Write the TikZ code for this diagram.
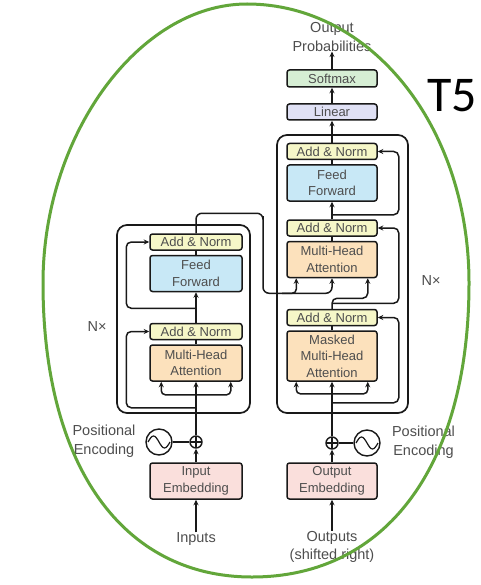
\documentclass[tikz,border=0pt]{standalone}
\usepackage{fontspec}
\setmainfont{Liberation Sans}
\newfontfamily\tfivefont{Carlito}
\usetikzlibrary{arrows.meta,calc}
\definecolor{txt}{RGB}{78,78,78}
\definecolor{ancol}{RGB}{246,247,200}
\definecolor{ffcol}{RGB}{200,232,246}
\definecolor{mhacol}{RGB}{252,225,188}
\definecolor{embcol}{RGB}{250,223,220}
\definecolor{lincol}{RGB}{224,225,245}
\definecolor{smcol}{RGB}{214,238,212}
\definecolor{ellcol}{RGB}{98,166,58}
\definecolor{linecol}{RGB}{25,25,25}
\begin{document}
\begin{tikzpicture}[x=1pt,y=-1pt,
  blk/.style={draw=linecol, line width=1.5pt, rounded corners=2.5pt, inner sep=0pt,
    text=txt, font=\fontsize{13}{16.5}\selectfont, align=center},
  encw/.style={blk, minimum width=92pt},
  decw/.style={blk, minimum width=90pt},
  anb/.style={fill=ancol, minimum height=16pt},
  bigb/.style={minimum height=36pt},
  con/.style={draw=linecol, line width=1.5pt},
  arr/.style={con, -{Stealth[length=5.5pt,width=5pt]}},
  outerbox/.style={draw=linecol, line width=1.7pt, rounded corners=10pt},
  lab/.style={text=txt, font=\fontsize{14.5}{18.5}\selectfont, align=center, inner sep=0pt},
  circ/.style={draw=linecol, line width=1.4pt, circle, inner sep=0pt}
]
\useasboundingbox (0,0) rectangle (480,585);
\fill[white] (0,0) rectangle (480,585);

% outer boxes
\draw[outerbox] (117,225) rectangle (250,413);
\draw[outerbox] (277,135) rectangle (408,413);

% ---------- Encoder ----------
\node[encw,anb] (eAN2) at (196,242) {Add \& Norm};
\node[encw,bigb,fill=ffcol] (eFF) at (196,273.5) {Feed\\Forward};
\node[encw,anb] (eAN1) at (196,331.5) {Add \& Norm};
\node[encw,bigb,fill=mhacol] (eMHA) at (196,363) {Multi-Head\\Attention};
\node[encw,bigb,fill=embcol] (eEmb) at (196,481) {Input\\Embedding};
\node[circ,minimum size=12pt] (ePlus) at (196,442) {};
\node[circ,minimum size=26pt] (eSin) at (159,442) {};
\node[lab] (eIn) at (196,539) {Inputs};
\node[lab] (ePE) at (104,441) {Positional\\Encoding};
\node[lab] (eN) at (97,327) {N×};

% plus sign
\draw[line width=1.1pt,linecol] ($(ePlus.west)+(1,0)$) -- ($(ePlus.east)+(-1,0)$);
\draw[line width=1.1pt,linecol] ($(ePlus.north)+(0,1)$) -- ($(ePlus.south)+(0,-1)$);
% sine
\draw[line width=1.2pt,linecol] ($(eSin.center)+(-11,0)$) sin ($(eSin.center)+(-5.5,-6)$) cos (eSin.center) sin ($(eSin.center)+(5.5,6)$) cos ($(eSin.center)+(11,0)$);

\draw[arr] (eIn.north) -- (eEmb.south);
\draw[arr] (eEmb.north) -- (ePlus.south);
\draw[con] (eSin.east) -- (ePlus.west);
\draw[arr] (ePlus.north) -- (eMHA.south);
\draw[arr, rounded corners=4pt] ($(eMHA.south)+(0,13)$) -| ($(eMHA.south west)+(12,0)$);
\draw[arr, rounded corners=4pt] ($(eMHA.south)+(0,13)$) -| ($(eMHA.south east)+(-12,0)$);
\draw[arr, rounded corners=5pt] ($(eMHA.south)+(0,26)$) -| ($(eAN1.west)+(-23,0)$) -- (eAN1.west);
\draw[con] (eMHA.north) -- (eAN1.south);
\draw[arr] (eAN1.north) -- (eFF.south);
\draw[arr, rounded corners=5pt] ($(eFF.south)+(0,16)$) -| ($(eAN2.west)+(-23,0)$) -- (eAN2.west);
\draw[con] (eFF.north) -- (eAN2.south);

% ---------- Decoder ----------
\node[lab] (dOut) at (332,37) {Output\\Probabilities};
\node[decw,minimum height=17pt,fill=smcol] (dSM) at (332,78.5) {Softmax};
\node[decw,anb,fill=lincol] (dLin) at (332,112) {Linear};
\node[decw,anb] (dAN3) at (332,151.5) {Add \& Norm};
\node[decw,bigb,fill=ffcol] (dFF) at (332,183) {Feed\\Forward};
\node[decw,anb] (dAN2) at (332,228) {Add \& Norm};
\node[decw,bigb,fill=mhacol] (dMHA) at (332,259.5) {Multi-Head\\Attention};
\node[decw,anb] (dAN1) at (332,317.5) {Add \& Norm};
\node[decw,minimum height=50pt,fill=mhacol] (dMMHA) at (332,356) {Masked\\Multi-Head\\Attention};
\node[decw,bigb,fill=embcol] (dEmb) at (332,481) {Output\\Embedding};
\node[circ,minimum size=12pt] (dPlus) at (332,443) {};
\node[circ,minimum size=26pt] (dSin) at (367,443) {};
\node[lab] (dIn) at (332,547) {Outputs\\(shifted right)};
\node[lab] (dPE) at (423.5,442) {Positional\\Encoding};
\node[lab] (dN) at (431,281) {N×};
\node[font=\tfivefont\fontsize{50}{50}\selectfont, inner sep=0pt] (t5) at (452,96) {T5};

\draw[line width=1.1pt,linecol] ($(dPlus.west)+(1,0)$) -- ($(dPlus.east)+(-1,0)$);
\draw[line width=1.1pt,linecol] ($(dPlus.north)+(0,1)$) -- ($(dPlus.south)+(0,-1)$);
\draw[line width=1.2pt,linecol] ($(dSin.center)+(-11,0)$) sin ($(dSin.center)+(-5.5,-6)$) cos (dSin.center) sin ($(dSin.center)+(5.5,6)$) cos ($(dSin.center)+(11,0)$);

\draw[arr] (dIn.north) -- (dEmb.south);
\draw[arr] (dEmb.north) -- (dPlus.south);
\draw[con] (dSin.west) -- (dPlus.east);
\draw[arr] (dPlus.north) -- (dMMHA.south);
\draw[arr, rounded corners=4pt] ($(dMMHA.south)+(0,12)$) -| ($(dMMHA.south west)+(10,0)$);
\draw[arr, rounded corners=4pt] ($(dMMHA.south)+(0,12)$) -| ($(dMMHA.south east)+(-10,0)$);
\draw[arr, rounded corners=5pt] ($(dMMHA.south)+(0,21)$) -| ($(dAN1.east)+(21,0)$) -- (dAN1.east);
\draw[con] (dMMHA.north) -- (dAN1.south);
\draw[arr, rounded corners=5pt] (dAN1.north) -- ($(dMHA.south)+(0,20)$) -| ($(dMHA.south east)+(-10,0)$);
\draw[arr, rounded corners=5pt] ($(dMHA.south)+(0,25)$) -| ($(dAN2.east)+(21,0)$) -- (dAN2.east);
\draw[con] (dMHA.north) -- (dAN2.south);
\draw[arr] (dAN2.north) -- (dFF.south);
\draw[arr, rounded corners=5pt] ($(dFF.south)+(0,13)$) -| ($(dAN3.east)+(21,0)$) -- (dAN3.east);
\draw[con] (dFF.north) -- (dAN3.south);
\draw[arr] (dAN3.north) -- (dLin.south);
\draw[arr] (dLin.north) -- (dSM.south);
\draw[arr] (dSM.north) -- (dOut.south);

% encoder to decoder
\coordinate (k1) at ($(eAN2.north)+(0,-20)$);
\coordinate (k2) at (263,222);
\draw[arr, rounded corners=6pt] (eAN2.north) -- (k1) -| (k2) |- ($(dMHA.south)+(-18,15)$) -| (dMHA.south);
\draw[arr, rounded corners=4pt] ($(dMHA.south)+(-50,15)$) -| ($(dMHA.south west)+(10,0)$);

% green hand-drawn oval
\draw[ellcol, line width=3pt] (247,4)
  .. controls (371.3,4) and (469,126.8) .. (469,283)
  .. controls (469,465.3) and (386.5,577) .. (252,577)
  .. controls (122.4,577) and (43,465.3) .. (43,283)
  .. controls (43,135.1) and (138.9,4) .. (247,4) -- cycle;
\end{tikzpicture}
\end{document}
